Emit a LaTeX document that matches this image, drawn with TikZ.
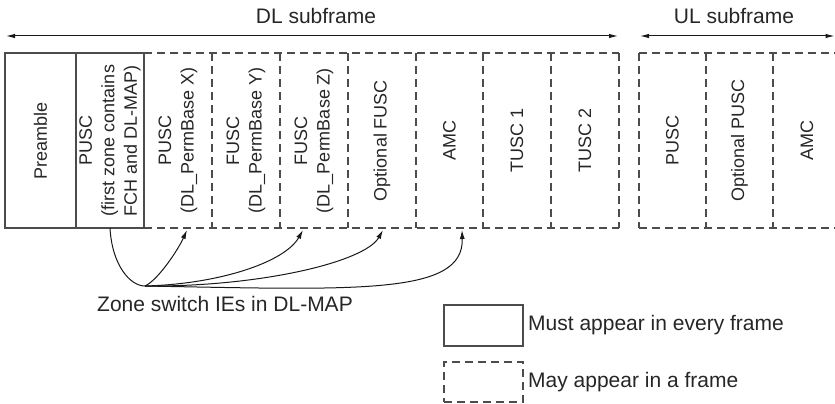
\documentclass[tikz,border=0pt]{standalone}
\usepackage{fontspec}
\setmainfont{Liberation Sans}
\usetikzlibrary{arrows.meta}
\begin{document}
\begin{tikzpicture}[x=1pt,y=-1pt,
  box/.style={rectangle,minimum height=175pt,minimum width=68pt,inner sep=0pt,outer sep=0pt,anchor=north west},
  vtext/.style={rotate=90,align=center,text=black!85,font=\fontsize{18}{22.5}\selectfont,inner sep=0pt},
  htext/.style={text=black!85,font=\fontsize{21}{25}\selectfont,inner sep=0pt},
  solidline/.style={draw=black!70,line width=1.2pt},
  dashline/.style={draw=black!70,line width=1.2pt,dash pattern=on 8pt off 5pt},
  arr/.style={draw=black!90,line width=1pt,{Latex[length=9pt,width=4.5pt]}-{Latex[length=9pt,width=4.5pt]}},
  curv/.style={draw=black!90,line width=1pt},
  curvarr/.style={curv,-{Latex[length=9pt,width=5pt]}}]
\useasboundingbox (0,0) rectangle (835,404);
% boxes
\node[box,minimum width=71pt] (pre) at (5,53) {};
\node[box] (pusc1) at (76,53) {};
\node[box] (puscx) at (144,53) {};
\node[box] (fuscy) at (212,53) {};
\node[box] (fuscz) at (280,53) {};
\node[box] (optf) at (348,53) {};
\node[box,minimum width=67pt] (amc) at (416,53) {};
\node[box] (tusca) at (483,53) {};
\node[box] (tuscb) at (551,53) {};
\node[box,minimum width=67pt] (ulpusc) at (639,53) {};
\node[box,minimum width=67pt] (ulopt) at (706,53) {};
\node[box] (ulamc) at (773,53) {};
% solid outlines
\draw[solidline] (pre.north west) rectangle (pusc1.south east);
\draw[solidline] (pre.north east) -- (pre.south east);
% dashed outlines DL
\draw[dashline] (puscx.north west) -- (tuscb.north east);
\draw[dashline] (puscx.south west) -- (tuscb.south east);
\foreach \b in {puscx,fuscy,fuscz,optf,amc,tusca,tuscb}
  \draw[dashline] (\b.north east) -- (\b.south east);
% dashed outlines UL
\draw[dashline] (ulpusc.north west) -- (835,53);
\draw[dashline] (ulpusc.south west) -- (835,228);
\draw[dashline] (ulpusc.north west) -- (ulpusc.south west);
\draw[dashline] (ulpusc.north east) -- (ulpusc.south east);
\draw[dashline] (ulopt.north east) -- (ulopt.south east);
% labels in boxes
\node[vtext] at (pre.center) {Preamble};
\node[vtext] at (pusc1.center) {PUSC\\(first zone contains\\FCH and DL-MAP)};
\node[vtext] at (puscx.center) {PUSC\\(DL\_PermBase X)};
\node[vtext] at (fuscy.center) {FUSC\\(DL\_PermBase Y)};
\node[vtext] at (fuscz.center) {FUSC\\(DL\_PermBase Z)};
\node[vtext] at (optf.center) {Optional FUSC};
\node[vtext] at (amc.center) {AMC};
\node[vtext] at (tusca.center) {TUSC 1};
\node[vtext] at (tuscb.center) {TUSC 2};
\node[vtext] at (ulpusc.center) {PUSC};
\node[vtext] at (ulopt.center) {Optional PUSC};
\node[vtext] at (ulamc.center) {AMC};
% subframe arrows
\coordinate (dll) at (6,36);
\coordinate (dlr) at (618,36);
\coordinate (ull) at (640,36);
\coordinate (ulr) at (834.5,36);
\draw[arr] (dll) -- (dlr);
\draw[arr] (ull) -- (ulr);
\node[htext] (dltitle) at (316,16) {DL subframe};
\node[htext] (ultitle) at (734,16) {UL subframe};
% zone switch curves
\coordinate (zb) at (145,286);
\coordinate (t1) at (187,230);
\coordinate (t2) at (303,230);
\coordinate (t3) at (383,230);
\coordinate (t4) at (462,230);
\draw[curv] (pusc1.south) .. controls (112,265) and (130,286) .. (zb);
\draw[curvarr] (zb) .. controls (158,280) and (178,250) .. (t1);
\draw[curvarr] (zb) .. controls (220,284) and (285,262) .. (t2);
\draw[curvarr] (zb) .. controls (260,287) and (365,262) .. (t3);
\draw[curvarr] (zb) .. controls (360,290) and (464,295) .. (t4);
\node[htext] (zlabel) at (225,304) {Zone switch IEs in DL-MAP};
% legend
\node[rectangle,minimum width=79pt,minimum height=41pt,inner sep=0pt,outer sep=0pt,anchor=north west,solidline] (lgs) at (444,305) {};
\node[rectangle,minimum width=79pt,minimum height=40pt,inner sep=0pt,outer sep=0pt,anchor=north west,dashline] (lgd) at (444,362) {};
\node[htext,anchor=west] (lgstext) at ([xshift=5pt]lgs.east) {Must appear in every frame};
\node[htext,anchor=west] (lgdtext) at ([xshift=5pt]lgd.east) {May appear in a frame};
\end{tikzpicture}
\end{document}
